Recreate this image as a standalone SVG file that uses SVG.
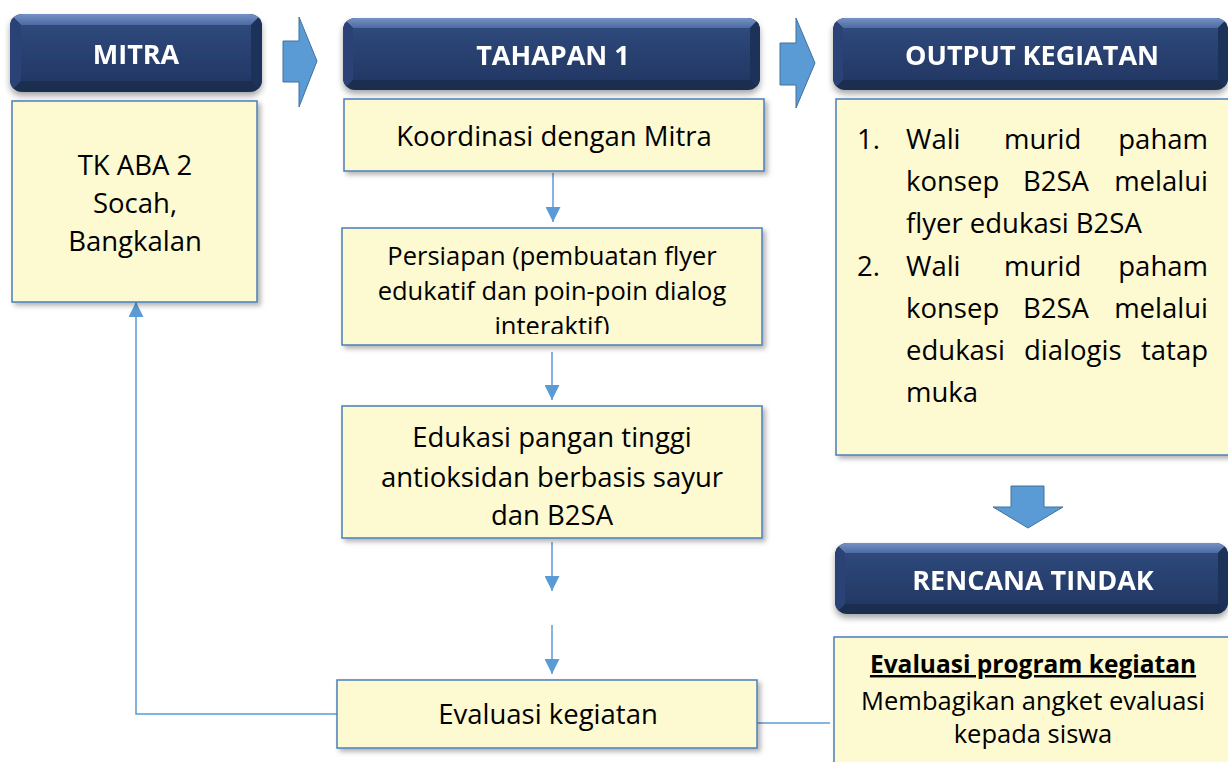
<svg xmlns="http://www.w3.org/2000/svg" width="1228" height="762" viewBox="0 0 1228 762">
<style>
.box{fill:#FDF9D1;stroke:#4A7EBB;stroke-width:1.5;filter:url(#sh)}
.t{font-family:"Open Sans","Noto Sans",sans-serif;font-size:27.5px;fill:#000;text-anchor:middle}
.h{font-family:"Open Sans","Noto Sans",sans-serif;font-size:27px;font-weight:bold;fill:#fff;text-anchor:middle}
.o{font-family:"Open Sans","Noto Sans",sans-serif;font-size:27.5px;fill:#000}
.c{fill:none;stroke:#5B9BD5;stroke-width:1.5}
.blk{fill:#5B9BD5;stroke:#41719C;stroke-width:1}
.top{fill:url(#gTop)}
.face{fill:url(#gFace)}
.lft{fill:#2A4374}
.rgt{fill:#1E3259}
.btm{fill:#1B2D50}
</style>
<defs>
<filter id="sh" x="-10%" y="-10%" width="125%" height="130%">
<feDropShadow dx="3" dy="3" stdDeviation="2.5" flood-color="#000" flood-opacity="0.3"/>
</filter>
<filter id="hsh" x="-10%" y="-10%" width="125%" height="140%">
<feDropShadow dx="0" dy="4" stdDeviation="3" flood-color="#000" flood-opacity="0.35"/>
</filter>
<linearGradient id="gTop" x1="0" y1="0" x2="0" y2="1">
<stop offset="0" stop-color="#7592C4"/>
<stop offset="1" stop-color="#4D6AA2"/>
</linearGradient>
<linearGradient id="gFace" x1="0" y1="0" x2="0" y2="1">
<stop offset="0" stop-color="#2E497B"/>
<stop offset="1" stop-color="#233865"/>
</linearGradient>
<marker id="ah2" viewBox="0 0 16 16" refX="16" refY="8" markerWidth="16" markerHeight="15" markerUnits="userSpaceOnUse" orient="auto">
<path d="M0,0 L16,8 L0,16 z" fill="#5B9BD5"/>
</marker>
<clipPath id="cpMitra"><rect x="10" y="14" width="252" height="78" rx="12"/></clipPath>
<clipPath id="cpTah"><rect x="343" y="18" width="417" height="72" rx="12"/></clipPath>
<clipPath id="cpOut"><rect x="833" y="18" width="395" height="72" rx="12"/></clipPath>
<clipPath id="cpRen"><rect x="835" y="543" width="393" height="71" rx="12"/></clipPath>
<clipPath id="cpPers"><rect x="342" y="228" width="420" height="106"/></clipPath>
</defs>

<g id="connectors">
<path class="c" d="M553,173 V222" marker-end="url(#ah2)"/>
<path class="c" d="M552,352 V400" marker-end="url(#ah2)"/>
<path class="c" d="M552,542 V591" marker-end="url(#ah2)"/>
<path class="c" d="M552,625 V674" marker-end="url(#ah2)"/>
<path class="c" d="M338,714 H136 V302" marker-end="url(#ah2)"/>
<path class="c" d="M757,723 H830"/>
</g>

<g id="arrow-right-1"><path class="blk" d="M283,41 H299 V17 L317,61 L299,107 V82 H283 Z"/></g>
<g id="arrow-right-2"><path class="blk" d="M780,43 H796 V18 L815,63 L796,108 V85 H780 Z"/></g>
<g id="arrow-down"><path class="blk" d="M1011,486 H1044 V507 H1063 L1028,528 L993,507 H1011 Z"/></g>

<g id="mitra-header" filter="url(#hsh)">
<g clip-path="url(#cpMitra)">
<rect x="10" y="14" width="252" height="78" class="btm"/>
<polygon class="top" points="10,14 262,14 251,25 21,25"/>
<polygon class="lft" points="10,14 21,25 21,81 10,92"/>
<polygon class="rgt" points="262,14 251,25 251,81 262,92"/>
<rect class="face" x="21" y="25" width="230" height="56"/>
</g>
<text class="h" x="136" y="64">MITRA</text>
</g>

<g id="tahapan-header" filter="url(#hsh)">
<g clip-path="url(#cpTah)">
<rect x="343" y="18" width="417" height="72" class="btm"/>
<polygon class="top" points="343,18 760,18 750,28 353,28"/>
<polygon class="lft" points="343,18 353,28 353,80 343,90"/>
<polygon class="rgt" points="760,18 750,28 750,80 760,90"/>
<rect class="face" x="353" y="28" width="397" height="52"/>
</g>
<text class="h" x="553" y="65">TAHAPAN 1</text>
</g>

<g id="output-header" filter="url(#hsh)">
<g clip-path="url(#cpOut)">
<rect x="833" y="18" width="395" height="72" class="btm"/>
<polygon class="top" points="833,18 1228,18 1218,28 843,28"/>
<polygon class="lft" points="833,18 843,28 843,80 833,90"/>
<polygon class="rgt" points="1228,18 1218,28 1218,80 1228,90"/>
<rect class="face" x="843" y="28" width="375" height="52"/>
</g>
<text class="h" x="1032" y="65">OUTPUT KEGIATAN</text>
</g>

<g id="rencana-header" filter="url(#hsh)">
<g clip-path="url(#cpRen)">
<rect x="835" y="543" width="393" height="71" class="btm"/>
<polygon class="top" points="835,543 1228,543 1218,553 845,553"/>
<polygon class="lft" points="835,543 845,553 845,604 835,614"/>
<polygon class="rgt" points="1228,543 1218,553 1218,604 1228,614"/>
<rect class="face" x="845" y="553" width="373" height="51"/>
</g>
<text class="h" x="1033" y="590">RENCANA TINDAK</text>
</g>

<g id="mitra-body">
<rect class="box" x="12" y="101" width="245" height="201"/>
<text class="t" x="135" y="175">TK ABA 2</text>
<text class="t" x="135" y="213">Socah,</text>
<text class="t" x="135" y="251">Bangkalan</text>
</g>

<g id="koordinasi">
<rect class="box" x="344" y="99" width="420" height="72"/>
<text class="t" x="554" y="146">Koordinasi dengan Mitra</text>
</g>

<g id="persiapan">
<rect class="box" x="342" y="228" width="420" height="117"/>
<g clip-path="url(#cpPers)">
<text class="t" x="552" y="265" style="font-size:25.5px">Persiapan (pembuatan flyer</text>
<text class="t" x="552" y="300" style="font-size:25.5px">edukatif dan poin-poin dialog</text>
<text class="t" x="552" y="335" style="font-size:25.5px">interaktif)</text>
</g>
</g>

<g id="edukasi">
<rect class="box" x="342" y="406" width="420" height="132"/>
<text class="t" x="552" y="447">Edukasi pangan tinggi</text>
<text class="t" x="552" y="487">antioksidan berbasis sayur</text>
<text class="t" x="552" y="525">dan B2SA</text>
</g>

<g id="evaluasi">
<rect class="box" x="337" y="680" width="420" height="68"/>
<text class="t" x="548" y="724">Evaluasi kegiatan</text>
</g>

<g id="output-body">
<rect class="box" x="836" y="99" width="400" height="356"/>
<text class="o" x="857" y="149">1.</text>
<text class="o" x="906" y="149">Wali</text>
<text class="o" x="1004" y="149">murid</text>
<text class="o" x="1208" y="149" text-anchor="end">paham</text>
<text class="o" x="906" y="191">konsep</text>
<text class="o" x="1023" y="191">B2SA</text>
<text class="o" x="1208" y="191" text-anchor="end">melalui</text>
<text class="o" x="906" y="233">flyer edukasi B2SA</text>
<text class="o" x="857" y="276">2.</text>
<text class="o" x="906" y="276">Wali</text>
<text class="o" x="1004" y="276">murid</text>
<text class="o" x="1208" y="276" text-anchor="end">paham</text>
<text class="o" x="906" y="318">konsep</text>
<text class="o" x="1023" y="318">B2SA</text>
<text class="o" x="1208" y="318" text-anchor="end">melalui</text>
<text class="o" x="906" y="360">edukasi</text>
<text class="o" x="1024" y="360">dialogis</text>
<text class="o" x="1208" y="360" text-anchor="end">tatap</text>
<text class="o" x="906" y="402">muka</text>
</g>

<g id="rencana-body">
<rect class="box" x="834" y="637" width="400" height="140"/>
<text class="t" x="1033" y="673" style="font-size:24.5px;font-weight:bold;text-decoration:underline">Evaluasi program kegiatan</text>
<text class="t" x="1033" y="710" style="font-size:25.5px">Membagikan angket evaluasi</text>
<text class="t" x="1033" y="743" style="font-size:25.5px">kepada siswa</text>
</g>
</svg>
